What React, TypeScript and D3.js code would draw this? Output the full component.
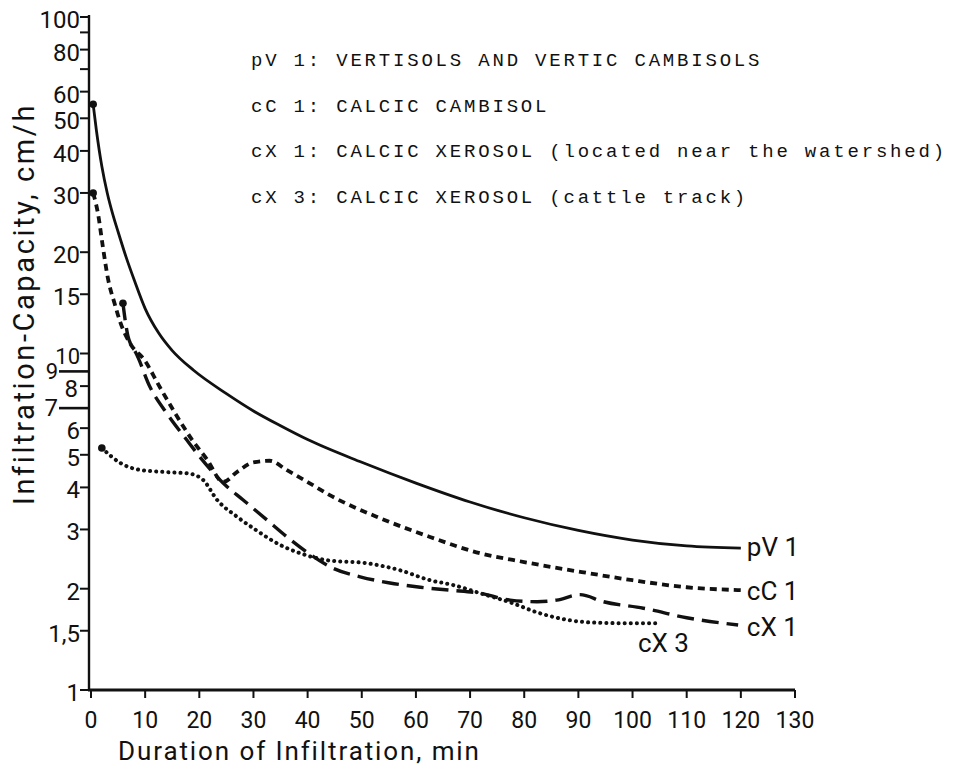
import React, { useEffect, useRef } from "react";
import * as d3 from "d3";

// Infiltration capacity (cm/h) vs duration (min)
const pv1Time = [0.4, 1, 2, 3, 4, 5, 6.5, 8, 10, 12.5, 15, 19, 25, 30, 35, 40, 50, 60, 70, 80, 90, 100, 110, 120];
const pv1Rate = [55, 46, 36, 30, 26, 23, 19.3, 16.5, 13.6, 11.5, 10.2, 8.9, 7.6, 6.75, 6.1, 5.55, 4.75, 4.12, 3.62, 3.25, 2.98, 2.79, 2.68, 2.64];

const cc1Time = [0.4, 1.3, 2.2, 3.1, 4.4, 5.4, 7.4, 9.8, 12.7, 15.9, 18.8, 21.4, 24.4, 27, 30, 33, 36.2, 40, 44, 53.4, 62.6, 71.8, 80, 90, 100, 110, 120];
const cc1Rate = [30, 26, 20.7, 16.8, 14, 12.4, 10.6, 9.6, 7.95, 6.5, 5.5, 4.85, 4.15, 4.45, 4.75, 4.8, 4.5, 4.15, 3.8, 3.24, 2.85, 2.55, 2.4, 2.25, 2.12, 2.02, 1.98];

const cx1Time = [5.9, 6.3, 6.8, 7.4, 8.2, 10.9, 14, 17.7, 20.1, 24.4, 28.1, 32.5, 36.2, 40, 44.7, 49.7, 55.2, 60.8, 66.3, 71.8, 77.4, 82.4, 86, 90.3, 94.6, 102, 110, 119.5];
const cx1Rate = [14.1, 12.6, 11.3, 10.6, 10.1, 7.95, 6.64, 5.53, 4.93, 4.12, 3.67, 3.2, 2.85, 2.56, 2.3, 2.17, 2.08, 2.02, 1.98, 1.94, 1.85, 1.83, 1.85, 1.92, 1.83, 1.75, 1.64, 1.56];

const cx3Time = [2, 5.4, 9, 14, 18, 20.7, 23.3, 27, 30.3, 34.9, 38.6, 43.6, 51, 57, 62.6, 66.9, 71.8, 77.9, 82.4, 85.3, 91.6, 97.7, 104.5];
const cx3Rate = [5.24, 4.73, 4.51, 4.44, 4.4, 4.21, 3.67, 3.27, 3.0, 2.7, 2.55, 2.43, 2.38, 2.27, 2.12, 2.05, 1.94, 1.81, 1.7, 1.65, 1.59, 1.58, 1.58];

const seriesNames = ["pV 1", "cC 1", "cX 1", "cX 3"];
const legendLines = [
  "pV 1: VERTISOLS AND VERTIC CAMBISOLS",
  "cC 1: CALCIC CAMBISOL",
  "cX 1: CALCIC XEROSOL (located near the watershed)",
  "cX 3: CALCIC XEROSOL (cattle track)",
];

const xTicks = [0, 10, 20, 30, 40, 50, 60, 70, 80, 90, 100, 110, 120, 130];
const yTicks = [1, 1.5, 2, 3, 4, 5, 6, 7, 8, 9, 10, 15, 20, 30, 40, 50, 60, 70, 80, 90, 100];
const yTickLabels = ["1", "1,5", "2", "3", "4", "5", "6", "7", "8", "9", "10", "15", "20", "30", "40", "50", "60", "", "80", "", "100"];

interface Pt { t: number; v: number; }
const zip = (ts: number[], vs: number[]): Pt[] => ts.map((t, i) => ({ t, v: vs[i] }));

export default function App() {
  const svgRef = useRef<SVGSVGElement | null>(null);

  useEffect(() => {
    if (!svgRef.current) return;
    const svg = d3.select(svgRef.current);
    svg.selectAll("*").remove();

    const ink = "#111";
    const sans = "Roboto, 'DejaVu Sans', sans-serif";

    const x = d3.scaleLinear().domain([0, 130]).range([91, 795]);
    const y = d3.scaleLog().domain([1, 100]).range([690, 17]);

    // Y axis (log), ticks pointing left
    const yAxis = svg.append("g").attr("transform", `translate(${x(0) - 2},0)`);
    yAxis.append("line")
      .attr("x1", 0).attr("x2", 0)
      .attr("y1", y(100) - 2).attr("y2", y(1) + 1)
      .attr("stroke", ink).attr("stroke-width", 2.4);

    const longTicks = new Set([7, 9]);
    yTicks.forEach((v, i) => {
      const long = longTicks.has(v);
      const len = long ? 30 : 9;
      const ty = long ? y(v) + 2.5 : y(v);
      yAxis.append("line")
        .attr("x1", -len).attr("x2", 0)
        .attr("y1", ty).attr("y2", ty)
        .attr("stroke", ink).attr("stroke-width", long ? 2.6 : 2);
      const label = yTickLabels[i];
      if (!label) return;
      // the hand lettered "8" sits between the long 9 and 7 rules
      const lx = long ? -len - 1 : v === 8 ? -11 : -9;
      const ly = long ? ty : y(v) + 3;
      yAxis.append("text")
        .attr("x", lx).attr("y", ly)
        .attr("text-anchor", "end")
        .attr("dominant-baseline", "central")
        .attr("font-family", sans)
        .attr("font-size", v === 9 || v === 10 ? 22 : 24)
        .attr("fill", ink)
        .text(label);
    });

    // X axis, ticks pointing down
    const xAxis = svg.append("g").attr("transform", `translate(0,${y(1)})`);
    xAxis.append("line")
      .attr("x1", x(0) - 3).attr("x2", x(130))
      .attr("y1", 0).attr("y2", 0)
      .attr("stroke", ink).attr("stroke-width", 2.8);
    xTicks.forEach((t) => {
      xAxis.append("line")
        .attr("x1", x(t)).attr("x2", x(t))
        .attr("y1", 0).attr("y2", 8)
        .attr("stroke", ink).attr("stroke-width", 2);
      xAxis.append("text")
        .attr("x", x(t)).attr("y", 38)
        .attr("text-anchor", "middle")
        .attr("font-family", sans)
        .attr("font-size", 23)
        .attr("fill", ink)
        .text(t);
    });

    // Axis titles
    svg.append("text")
      .attr("x", 118).attr("y", 760)
      .attr("font-family", sans)
      .attr("font-size", 26)
      .attr("letter-spacing", 1.9)
      .attr("fill", ink)
      .text("Duration of Infiltration, min");

    svg.append("text")
      .attr("transform", "translate(34,505) rotate(-90)")
      .attr("font-family", sans)
      .attr("font-size", 29)
      .attr("letter-spacing", 2.6)
      .attr("fill", ink)
      .text("Infiltration-Capacity, cm/h");

    // Curves
    const line = d3.line<Pt>()
      .x((d) => x(d.t))
      .y((d) => y(d.v))
      .curve(d3.curveMonotoneX);

    const series = [
      { data: zip(pv1Time, pv1Rate), dash: null, width: 2.8, cap: "butt" },
      { data: zip(cc1Time, cc1Rate), dash: "7 5", width: 3.8, cap: "butt" },
      { data: zip(cx1Time, cx1Rate), dash: "17 8", width: 3.4, cap: "butt" },
      { data: zip(cx3Time, cx3Rate), dash: "0.1 6", width: 4, cap: "round" },
    ];

    series.forEach((s) => {
      svg.append("path")
        .datum(s.data)
        .attr("fill", "none")
        .attr("stroke", ink)
        .attr("stroke-width", s.width)
        .attr("stroke-linecap", s.cap)
        .attr("stroke-dasharray", s.dash)
        .attr("d", line);
      svg.append("circle")
        .attr("cx", x(s.data[0].t))
        .attr("cy", y(s.data[0].v))
        .attr("r", 3.8)
        .attr("fill", ink);
    });

    // Curve end labels
    const endLabels = [
      { name: seriesNames[0], t: 120, v: pv1Rate[pv1Rate.length - 1], dx: 6, dy: 8 },
      { name: seriesNames[1], t: 120, v: cc1Rate[cc1Rate.length - 1], dx: 6, dy: 10 },
      { name: seriesNames[2], t: 120, v: cx1Rate[cx1Rate.length - 1], dx: 6, dy: 11 },
      { name: seriesNames[3], t: 101, v: cx3Rate[cx3Rate.length - 1], dx: 0, dy: 29 },
    ];
    endLabels.forEach((l) => {
      svg.append("text")
        .attr("x", x(l.t) + l.dx)
        .attr("y", y(l.v) + l.dy)
        .attr("font-family", sans)
        .attr("font-size", 26)
        .attr("fill", ink)
        .text(l.name);
    });

    // Typewritten key
    legendLines.forEach((txt, i) => {
      svg.append("text")
        .attr("x", 251)
        .attr("y", 66 + i * 45.5)
        .attr("font-family", "'Liberation Mono', 'DejaVu Sans Mono', monospace")
        .attr("font-size", 19)
        .attr("letter-spacing", 2.8)
        .attr("fill", ink)
        .attr("xml:space", "preserve")
        .text(txt);
    });
  }, []);

  return (
    <div style={{ position: "absolute", left: 0, top: 0, width: 959, height: 772, background: "#fff" }}>
      <svg ref={svgRef} width={959} height={772} style={{ display: "block" }} />
    </div>
  );
}
